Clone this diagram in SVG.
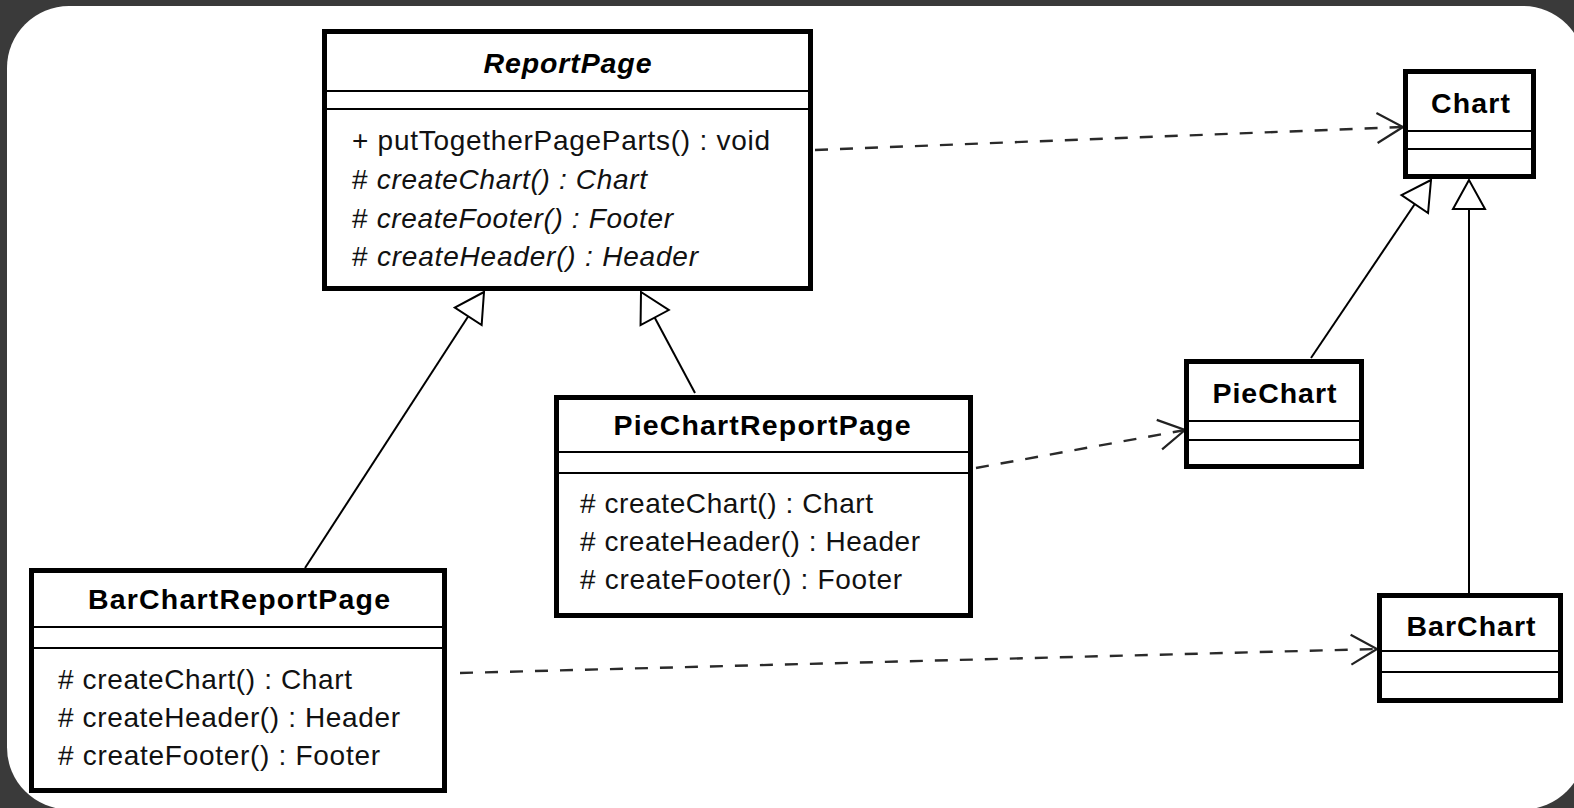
<svg xmlns="http://www.w3.org/2000/svg" width="1574" height="808" viewBox="0 0 1574 808">
<style>
.box{fill:#fff;stroke:#000;stroke-width:5}
.div{stroke:#000;stroke-width:2}
.t{font-family:"Liberation Sans",Arial,sans-serif;font-size:28.5px;font-weight:bold;fill:#000;text-anchor:middle}
.m{font-family:"Liberation Sans",Arial,sans-serif;font-size:28px;fill:#111}
.i{font-style:italic}
.dep{fill:none;stroke:#2a2a2a;stroke-width:2.4;stroke-dasharray:13 12}
.gen{fill:none;stroke:#000;stroke-width:2}
</style>
<defs>
<marker id="open" markerUnits="userSpaceOnUse" orient="auto" refX="0" refY="0" markerWidth="40" markerHeight="40" overflow="visible">
<path d="M-26,-15 L0,0 L-26,15" fill="none" stroke="#222" stroke-width="2.2"/>
</marker>
<marker id="tri" markerUnits="userSpaceOnUse" orient="auto" refX="0" refY="0" markerWidth="40" markerHeight="40" overflow="visible">
<path d="M0,0 L-29,-16 L-29,16 Z" fill="#fff" stroke="#000" stroke-width="2"/>
</marker>
</defs>
<rect x="0" y="0" width="1574" height="808" fill="#3a3a3a"/>
<rect x="7" y="6" width="1578" height="803.5" rx="62" ry="62" fill="#fff"/>

<g id="connectors">
<line class="dep" x1="815" y1="150" x2="1403" y2="127" marker-end="url(#open)"/>
<line class="dep" x1="976" y1="468" x2="1185" y2="430" marker-end="url(#open)"/>
<line class="dep" x1="460" y1="673" x2="1377" y2="649" marker-end="url(#open)"/>
<line class="gen" x1="305" y1="568" x2="484" y2="292" marker-end="url(#tri)"/>
<line class="gen" x1="695" y1="393" x2="641" y2="292" marker-end="url(#tri)"/>
<line class="gen" x1="1311" y1="358" x2="1431" y2="180" marker-end="url(#tri)"/>
<line class="gen" x1="1469" y1="593" x2="1469" y2="180" marker-end="url(#tri)"/>
</g>

<g id="ReportPage">
<rect class="box" x="324.5" y="31.5" width="486" height="257"/>
<line class="div" x1="327" y1="91" x2="808" y2="91"/>
<line class="div" x1="327" y1="109" x2="808" y2="109"/>
<text class="t i" x="567.5" y="73" textLength="168">ReportPage</text>
<text class="m" x="352" y="150" textLength="418">+ putTogetherPageParts() : void</text>
<text class="m" x="352" y="189" textLength="295"># <tspan class="i">createChart() : Chart</tspan></text>
<text class="m" x="352" y="228" textLength="321"># <tspan class="i">createFooter() : Footer</tspan></text>
<text class="m" x="352" y="266" textLength="346"># <tspan class="i">createHeader() : Header</tspan></text>
</g>

<g id="Chart">
<rect class="box" x="1405.5" y="71.5" width="128" height="105"/>
<line class="div" x1="1408" y1="131" x2="1531" y2="131"/>
<line class="div" x1="1408" y1="149" x2="1531" y2="149"/>
<text class="t" x="1470.5" y="113" textLength="79">Chart</text>
</g>

<g id="PieChart">
<rect class="box" x="1186.5" y="361.5" width="175" height="105"/>
<line class="div" x1="1189" y1="421" x2="1359" y2="421"/>
<line class="div" x1="1189" y1="440" x2="1359" y2="440"/>
<text class="t" x="1274.5" y="403" textLength="124">PieChart</text>
</g>

<g id="BarChart">
<rect class="box" x="1379.5" y="595.5" width="181" height="105"/>
<line class="div" x1="1382" y1="651" x2="1558" y2="651"/>
<line class="div" x1="1382" y1="672" x2="1558" y2="672"/>
<text class="t" x="1471" y="636" textLength="129">BarChart</text>
</g>

<g id="BarChartReportPage">
<rect class="box" x="31.5" y="570.5" width="413" height="220"/>
<line class="div" x1="34" y1="627" x2="442" y2="627"/>
<line class="div" x1="34" y1="648" x2="442" y2="648"/>
<text class="t" x="239" y="609" textLength="302">BarChartReportPage</text>
<text class="m" x="58" y="689" textLength="294"># createChart() : Chart</text>
<text class="m" x="58" y="727" textLength="342"># createHeader() : Header</text>
<text class="m" x="58" y="765" textLength="322"># createFooter() : Footer</text>
</g>

<g id="PieChartReportPage">
<rect class="box" x="556.5" y="397.5" width="414" height="218"/>
<line class="div" x1="559" y1="452" x2="968" y2="452"/>
<line class="div" x1="559" y1="473" x2="968" y2="473"/>
<text class="t" x="762" y="435" textLength="297">PieChartReportPage</text>
<text class="m" x="580" y="513" textLength="293"># createChart() : Chart</text>
<text class="m" x="580" y="551" textLength="340"># createHeader() : Header</text>
<text class="m" x="580" y="589" textLength="322"># createFooter() : Footer</text>
</g>
</svg>
